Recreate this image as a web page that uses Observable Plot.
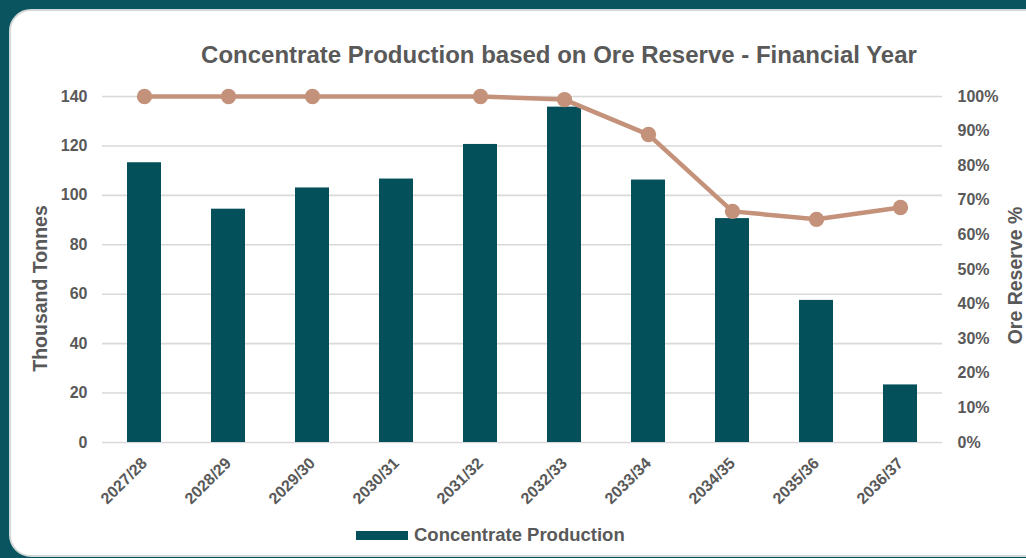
<!DOCTYPE html>
<html><head><meta charset="utf-8">
<script src="https://cdn.jsdelivr.net/npm/d3@7"></script>
<script src="https://cdn.jsdelivr.net/npm/@observablehq/plot@0.6"></script>
<style>
html,body{margin:0;padding:0;width:1026px;height:558px;overflow:hidden;background:#0a545f;font-family:Arial,"Liberation Sans",Helvetica,sans-serif;}
#card{position:absolute;left:9px;top:9px;width:1060px;height:548px;background:#fff;border-radius:22px;border:2px solid #d3d8d8;box-sizing:border-box;}
#chart{position:absolute;left:0;top:0;}
#chart svg text{font-weight:bold;font-family:Arial,"Liberation Sans",Helvetica,sans-serif;}
#title{position:absolute;left:159px;width:800px;top:43px;text-align:center;font-size:24px;line-height:1;font-weight:bold;color:#595959;white-space:nowrap;}
#legend{position:absolute;left:356px;top:526px;height:20px;font-size:18.5px;line-height:1;font-weight:bold;color:#595959;white-space:nowrap;}
#legend .sw{position:absolute;left:0;top:5px;width:52px;height:9px;background:#03505b;}
#legend .lb{position:absolute;left:58px;top:0;}
</style>
</head><body>
<div id="card"></div>
<div id="chart"></div>
<div id="title">Concentrate Production based on Ore Reserve - Financial Year</div>
<div id="legend"><div class="sw"></div><div class="lb">Concentrate Production</div></div>
<script>
const years = ["2027/28","2028/29","2029/30","2030/31","2031/32","2032/33","2033/34","2034/35","2035/36","2036/37"];
const production = [113.2, 94.4, 103.0, 106.6, 120.6, 135.7, 106.2, 90.6, 57.5, 23.3];
const oreReserve = [100, 100, 100, 100, 100, 99.1, 89.0, 66.8, 64.5, 67.9];
const markerShown = [true, true, true, false, true, true, true, true, true, true];
const leftTicks = [0, 20, 40, 60, 80, 100, 120, 140];
const pctTicks = [0, 10, 20, 30, 40, 50, 60, 70, 80, 90, 100];
const leftMax = 140;

const pctToY = p => p / 100 * leftMax;
const data = years.map((year, i) => ({year, prod: production[i], pct: oreReserve[i], marker: markerShown[i]}));

const barColor = "#03505b";
const lineColor = "#c4927a";
const textColor = "#595959";
const fontStack = "Arial, 'Liberation Sans', Helvetica, sans-serif";

const chart = Plot.plot({
  width: 1026, height: 558,
  marginLeft: 102, marginRight: 84, marginTop: 96, marginBottom: 116,
  style: {background: "transparent", fontFamily: fontStack, color: textColor, overflow: "visible"},
  x: {domain: years, paddingInner: 0.6, paddingOuter: 0.3},
  y: {domain: [0, leftMax]},
  marks: [
    Plot.gridY(leftTicks, {stroke: "#d9d9d9", strokeOpacity: 1, strokeWidth: 1.6}),
    Plot.barY(data, {x: "year", y: "prod", fill: barColor}),
    Plot.line(data, {x: "year", y: d => pctToY(d.pct), stroke: lineColor, strokeWidth: 4.5}),
    Plot.dot(data.filter(d => d.marker), {x: "year", y: d => pctToY(d.pct), r: 7.7, fill: lineColor, stroke: "none"}),
    Plot.axisY(leftTicks, {anchor: "left", tickSize: 0, tickPadding: 15, fontSize: 16, label: null, fill: textColor}),
    Plot.axisY(pctTicks.map(pctToY), {anchor: "right", tickSize: 0, tickPadding: 15, fontSize: 16, label: null, fill: textColor,
      tickFormat: d => Math.round(d / leftMax * 100) + "%"}),
    Plot.axisX({tickRotate: -45, tickSize: 0, tickPadding: 18, fontSize: 16, label: null, fill: textColor}),
    Plot.text(["Thousand Tonnes"], {frameAnchor: "left", rotate: -90, lineAnchor: "bottom", textAnchor: "middle", dx: -55.5, dy: 19, fontSize: 19.5, fill: textColor}),
    Plot.text(["Ore Reserve %"], {frameAnchor: "right", rotate: -90, lineAnchor: "bottom", textAnchor: "middle", dx: 79, dy: 6, fontSize: 19.5, fill: textColor})
  ]
});
document.getElementById("chart").appendChild(chart);
</script>
</body></html>
